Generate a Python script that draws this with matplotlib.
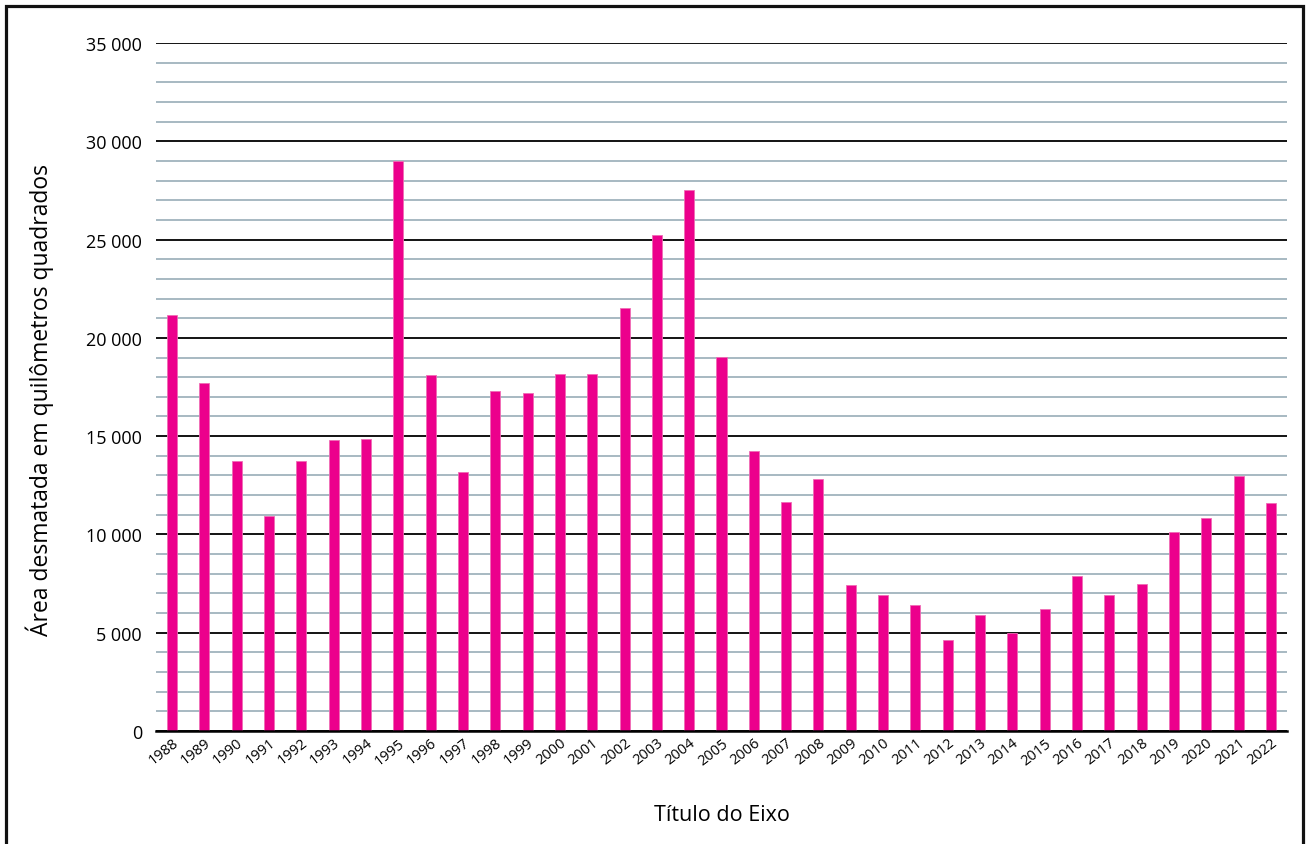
import matplotlib
matplotlib.use("Agg")
import matplotlib.pyplot as plt
from matplotlib.patches import Rectangle
from matplotlib.ticker import MultipleLocator, FuncFormatter

years = [str(y) for y in range(1988, 2023)]
area = [21160, 17700, 13740, 10940, 13740, 14800, 14850, 29000, 18110, 13180,
        17300, 17190, 18160, 18160, 21520, 25230, 27520, 19030, 14240, 11650,
        12820, 7430, 6920, 6410, 4630, 5900, 4990, 6210, 7890, 6920,
        7480, 10120, 10840, 12970, 11600]

plt.rcParams['font.family'] = ['Open Sans', 'DejaVu Sans']

fig = plt.figure(figsize=(13.08, 8.45), dpi=100)
ax = fig.add_axes([156/1308, 1-732/845, (1287-156)/1308, (732-44)/845])

x = range(len(years))
ax.bar(x, area, width=0.31, color='#EC008C', edgecolor='#F06CB5', linewidth=0.6, zorder=3)

ax.set_xlim(-0.5, len(years)-0.5)
ax.set_ylim(0, 35000)
ax.yaxis.set_major_locator(MultipleLocator(5000))
ax.yaxis.set_minor_locator(MultipleLocator(1000))
ax.yaxis.set_major_formatter(FuncFormatter(lambda v, p: f"{int(v):,}".replace(",", " ")))
ax.grid(which='major', axis='y', color='black', linewidth=1.3, zorder=1)
ax.grid(which='minor', axis='y', color='#8FA5B2', linewidth=1.1, zorder=1)
ax.set_axisbelow(True)
for s in ['top', 'right', 'left']:
    ax.spines[s].set_visible(False)
ax.spines['bottom'].set_color('black')
ax.spines['bottom'].set_linewidth(1.8)
ax.spines['bottom'].set_zorder(4)

ax.set_xticks(list(x))
ax.set_xticklabels(years, rotation=38, ha='right', rotation_mode='anchor', fontsize=10.5)
ax.tick_params(axis='x', length=0, pad=3)
ax.tick_params(axis='y', which='both', length=0, pad=10, labelsize=13)

fig.text(40/1308, 1-400/845, 'Área desmatada em quilômetros quadrados', rotation=90,
         ha='center', va='center', fontsize=16.5)
fig.text(722/1308, 1-816/845, 'Título do Eixo', ha='center', va='center', fontsize=15.5)

rect = Rectangle((6/1308, -0.02), 1297/1308, 1.02 - 7/845, transform=fig.transFigure,
                 fill=False, edgecolor='#111111', linewidth=2.3, clip_on=False)
fig.patches.append(rect)

fig.savefig('out.png', dpi=100)
